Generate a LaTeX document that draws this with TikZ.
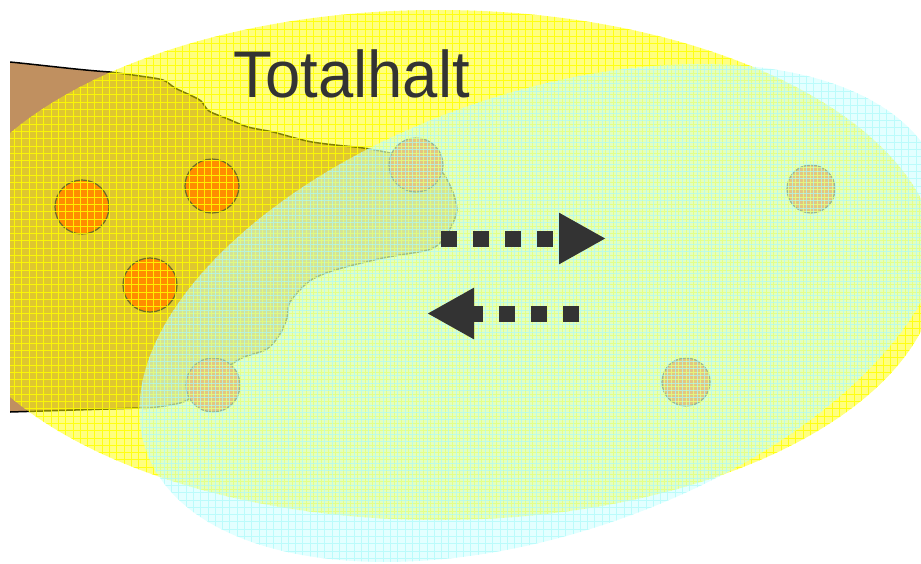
\documentclass[tikz,border=0pt]{standalone}
\usepackage{fontspec}
\setmainfont{Liberation Sans}
\usetikzlibrary{arrows.meta}
\definecolor{brownfill}{RGB}{192,144,96}
\definecolor{yellowfill}{RGB}{255,255,0}
\definecolor{cyanfill}{RGB}{200,255,255}
\definecolor{cyangrid}{RGB}{170,250,250}
\definecolor{orangefill}{RGB}{255,140,0}
\definecolor{circline}{RGB}{105,110,40}
\definecolor{darktext}{RGB}{51,51,51}
\begin{document}
\begin{tikzpicture}[x=1pt,y=-1pt,
  pebble/.style={fill=orangefill, draw=circline, line width=1.2pt},
  flow/.style={draw=darktext, line width=16pt, dash pattern=on 16pt off 16pt, -{Triangle[length=47pt,width=48pt]}},
  outline/.style={draw=black, line width=1.5pt}
]
\useasboundingbox (0,0) rectangle (921,563);
\clip (10,0) rectangle (921,563);
% brown area
\fill[brownfill] (10,62) .. controls (50,66) and (80,70) .. (110,72)
  -- plot[smooth,tension=0.5] coordinates {(110,72) (140,76) (163,80) (175,88) (190,95) (201,101) (209,111) (228,119) (248,127) (273,132) (295,138) (312,142) (335,145) (363,148) (390,153) (415,160) (440,170) (452,190) (457,210) (451,227) (442,241) (428,250) (383,258) (335,270) (311,280) (297,293) (289,304) (287,318) (280,334) (267,349) (244,357) (232,364) (214,378) (195,395) (180,403) (150,408) (140,408)}
  -- (10,412) -- cycle;
\draw[outline] (10,62) .. controls (50,66) and (80,70) .. (110,72)
  -- plot[smooth,tension=0.5] coordinates {(110,72) (140,76) (163,80) (175,88) (190,95) (201,101) (209,111) (228,119) (248,127) (273,132) (295,138) (312,142) (335,145) (363,148) (390,153) (415,160) (440,170) (452,190) (457,210) (451,227) (442,241) (428,250) (383,258) (335,270) (311,280) (297,293) (289,304) (287,318) (280,334) (267,349) (244,357) (232,364) (214,378) (195,395) (180,403) (150,408) (140,408)}
  -- (10,412);
% yellow ellipse
\fill[yellowfill, opacity=0.5] (438,265) ellipse [x radius=500pt, y radius=255pt];
% pebbles
\filldraw[pebble] (82,207) circle[radius=27pt];
\filldraw[pebble] (212,186) circle[radius=27pt];
\filldraw[pebble] (150,285) circle[radius=27pt];
\filldraw[pebble] (416,165) circle[radius=27pt];
\filldraw[pebble] (213,385) circle[radius=27pt];
\filldraw[pebble] (811,189) circle[radius=24pt];
\filldraw[pebble] (686,382) circle[radius=24pt];
% yellow grid
\begin{scope}
\clip (438,265) ellipse [x radius=500pt, y radius=255pt];
\draw[yellowfill, line width=1pt, opacity=0.85, step=7.3pt] (0,0) grid (921,563);
\end{scope}
% cyan ellipse
\fill[cyanfill, opacity=0.5, rotate around={19:(543,313)}] (543,313) ellipse [x radius=420pt, y radius=220pt];
\begin{scope}
\clip[rotate around={19:(543,313)}] (543,313) ellipse [x radius=420pt, y radius=220pt];
\draw[cyangrid, line width=1pt, opacity=0.7, step=7.3pt, shift={(3.6,3.6)}] (-10,-10) grid (930,570);
\end{scope}
% title
\node[anchor=base west, inner sep=0pt, text=darktext, xscale=0.96, font=\fontsize{66}{72}\selectfont] (title) at (233.5,97) {Totalhalt};
% arrows
\coordinate (ra) at (441,238.5);
\coordinate (rb) at (606,238.5);
\draw[flow] (ra) -- (rb);
\coordinate (la) at (579,313.5);
\coordinate (lb) at (427,313.5);
\draw[flow] (la) -- (lb);
\end{tikzpicture}
\end{document}
